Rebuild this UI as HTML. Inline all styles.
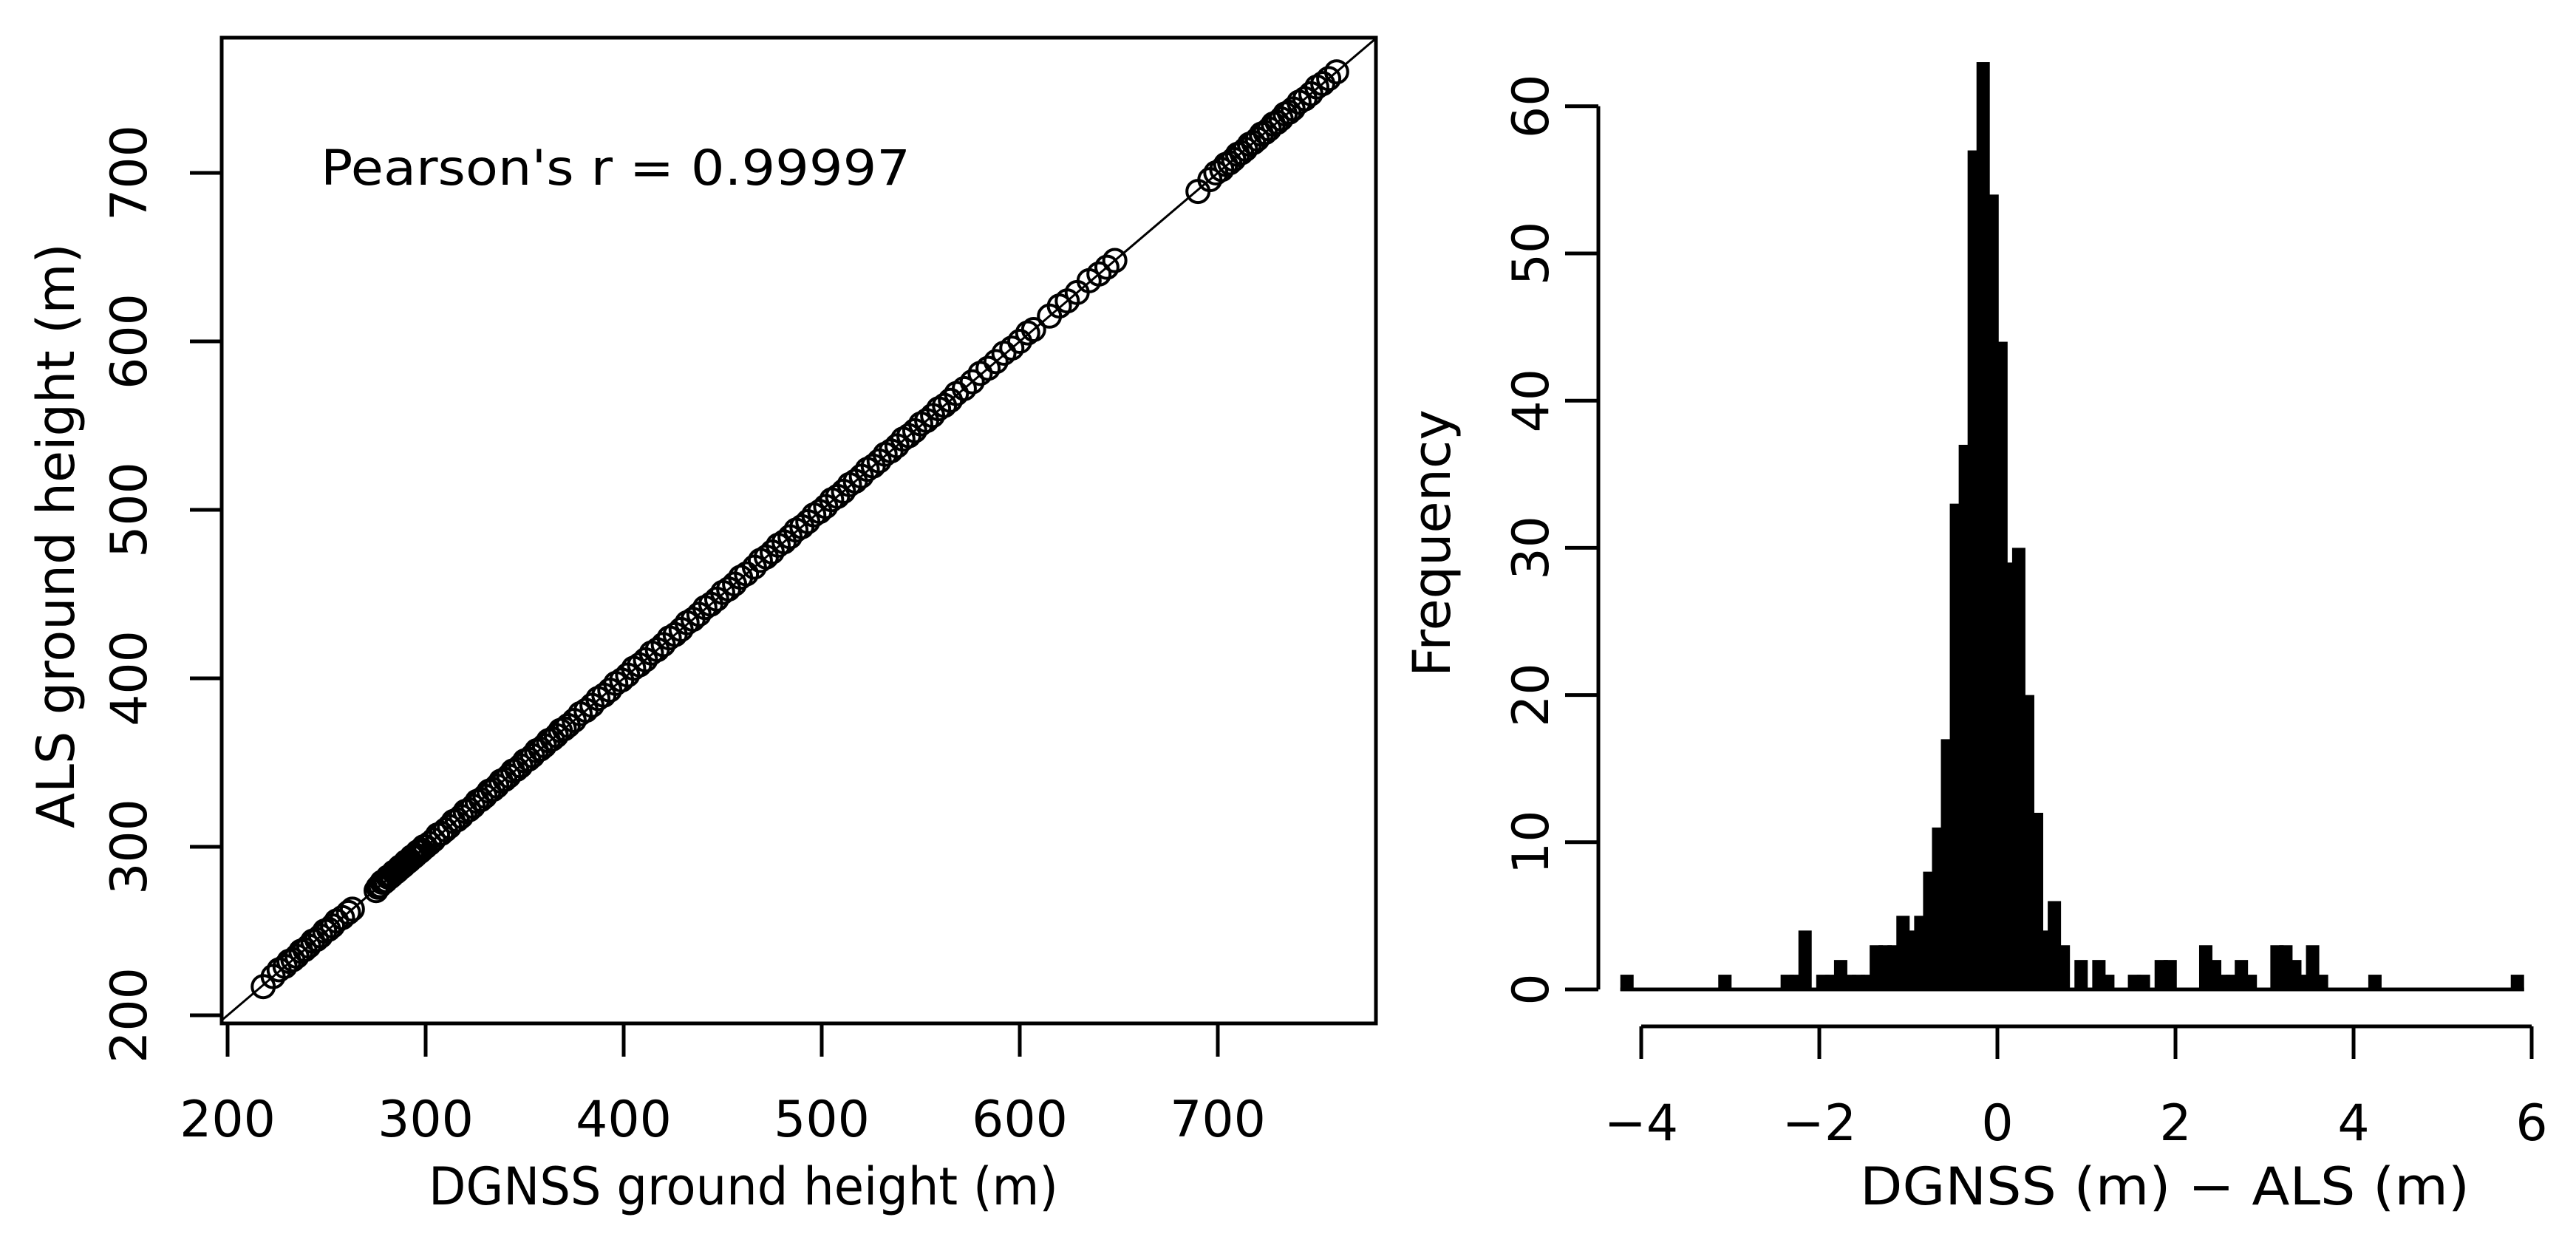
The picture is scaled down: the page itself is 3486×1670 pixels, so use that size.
<!DOCTYPE html>
<html><head><meta charset="utf-8"><style>
html,body{margin:0;padding:0;background:#fff;}
svg{display:block;font-family:"DejaVu Sans","Liberation Sans",sans-serif;}
</style></head><body>
<svg id="fig" width="3486" height="1670" viewBox="0 0 3486 1670" xmlns="http://www.w3.org/2000/svg">
<g id="left"></g>
<g id="right"></g>
</svg>
<script>
// ---- Scatter data ----
const dgnss = [218,223,226,229,231,233,235,237,239,241,243,245,247,249,251,253,255,258,261,263,
275,276,277,278,279,280,281,282,283,284,285,286,287,288,289,290,291,292,293,294,295,296,297,298,299,300,
302,304,306,308,310,312,314,316,318,320,322,324,326,328,330,332,334,336,338,340,342,344,346,348,350,352,354,356,358,360,362,364,366,368,370,372,375,378,381,384,387,390,393,396,399,402,405,408,411,414,417,420,423,426,429,432,435,438,441,444,447,450,453,456,459,462,466,469,472,475,478,481,484,487,490,493,496,499,502,505,508,511,514,517,520,523,526,529,532,535,538,541,544,547,550,553,556,559,562,565,568,572,576,580,584,588,592,596,600,604,607,615,620,624,629,635,640,644,648,
690,696,699,702,704,706,708,710,712,714,716,718,720,722,724,726,728,730,732,734,736,738,741,744,747,750,753,756,760];
const als = [217,223,227,229,232,233,235,238,239,241,244,245,247,250,251,253,256,258,261,263,
274,276,277,279,279,280,282,282,283,285,285,286,288,288,289,291,291,292,294,294,295,297,297,298,300,300,
302,304,307,308,310,312,315,316,318,321,322,324,327,328,330,333,334,336,339,340,342,345,346,348,351,352,354,357,358,360,363,364,366,369,370,372,375,379,381,384,388,390,393,397,399,402,406,408,411,415,417,420,424,426,429,433,435,438,442,444,447,451,453,456,460,462,466,470,472,475,479,481,484,488,490,493,497,499,502,506,508,511,515,517,520,524,526,529,533,535,538,542,544,547,551,553,556,560,562,565,569,572,576,581,584,588,593,596,600,605,607,615,621,624,629,636,640,644,648,
689,696,700,702,705,706,708,711,712,714,717,718,720,723,724,726,729,730,732,735,736,738,742,744,747,751,753,756,760];
const scatterXTicks = [200,300,400,500,600,700];
const scatterYTicks = [200,300,400,500,600,700];

// ---- Histogram data ----
const histBinStart = -4.16;
const histBinWidth = 0.1;
const histCounts = [1,0,0,0,0,0,0,0,0,0,0,1,0,0,0,0,0,0,1,1,4,0,1,1,2,1,1,1,3,3,3,5,4,5,8,11,17,33,37,57,63,54,44,29,30,20,12,4,6,3,0,2,0,2,1,0,0,1,1,0,2,2,0,0,0,3,2,1,1,2,1,0,0,3,3,2,1,3,1,0,0,0,0,0,1,0,0,0,0,0,0,0,0,0,0,0,0,0,0,0,1];
const histXTicks = [-4,-2,0,2,4,6];
const histXTickLabels = ["\u22124","\u22122","0","2","4","6"];
const histYTicks = [0,10,20,30,40,50,60];

const NS="http://www.w3.org/2000/svg";
function mk(tag, attrs, parent, text){
  const e=document.createElementNS(NS,tag);
  for(const k in attrs) e.setAttribute(k, attrs[k]);
  if(text!==undefined) e.textContent=text;
  parent.appendChild(e); return e;
}
const L=document.getElementById('left');
const R=document.getElementById('right');

const sx = v => 308 + (v-200)*2.68;
const sy = v => 1374 - (v-200)*2.28;

const defs=mk('defs',{},document.getElementById('fig'));
const cp=mk('clipPath',{id:'boxclip'},defs);
mk('rect',{x:300,y:51,width:1562,height:1334},cp);

let ln=mk('line',{x1:sx(190),y1:sy(190),x2:sx(800),y2:sy(800),stroke:'#000','stroke-width':3,'clip-path':'url(#boxclip)'},L);



const pts=mk('g',{'clip-path':'url(#boxclip)'},L);


const n=Math.min(dgnss.length, als.length);
for(let i=0;i<n;i++){
  const c=mk('circle',{cx:sx(dgnss[i]),cy:sy(als[i]),r:15,fill:'none',stroke:'#000','stroke-width':4},pts);
  
  
}
let bx=mk('rect',{x:300,y:51,width:1562,height:1334,fill:'none',stroke:'#000','stroke-width':5},L);



scatterXTicks.forEach(t=>{
  const x=sx(t);
  let tk=mk('line',{x1:x,y1:1385,x2:x,y2:1430,stroke:'#000','stroke-width':5},L);
  
  
  let lb=mk('text',{x:x,y:1538,'font-size':68,'text-anchor':'middle'},L,String(t));
  
  
});
scatterYTicks.forEach(t=>{
  const y=sy(t);
  let tk=mk('line',{x1:257,y1:y,x2:300,y2:y,stroke:'#000','stroke-width':5},L);
  
  
  let lb=mk('text',{x:0,y:0,'font-size':68,'text-anchor':'middle',transform:`translate(198,${y}) rotate(-90)`},L,String(t));
  
  
});
let xt=mk('text',{x:580,y:1630,'font-size':70,textLength:852,lengthAdjust:'spacingAndGlyphs'},L,'DGNSS ground height (m)');


let yt=mk('text',{x:0,y:0,'font-size':70,'text-anchor':'middle',transform:'translate(100,725) rotate(-90)'},L,'ALS ground height (m)');


let pr=mk('text',{x:434,y:250,'font-size':66,textLength:798,lengthAdjust:'spacingAndGlyphs'},L,"Pearson's r = 0.99997");



// ---- Histogram ----
const hx = v => 2221 + (v+4)*120.5;
const hy = c => 1339 - c*19.92;
let base=mk('line',{x1:hx(histBinStart)-9,y1:1339,x2:hx(histBinStart+(histCounts.length-1)*histBinWidth)+9,y2:1339,stroke:'#000','stroke-width':5},R);


histCounts.forEach((c,i)=>{
  if(c<=0) return;
  const v=histBinStart+i*histBinWidth;
  const x=hx(v);
  const b=mk('rect',{x:x-9,y:hy(c),width:18,height:1341-hy(c),fill:'#000'},R);
  
  
});
let ya=mk('line',{x1:2163,y1:hy(60),x2:2163,y2:hy(0),stroke:'#000','stroke-width':5},R);


histYTicks.forEach(t=>{
  const y=hy(t);
  let tk=mk('line',{x1:2118,y1:y,x2:2163,y2:y,stroke:'#000','stroke-width':5},R);
  
  
  let lb=mk('text',{x:0,y:0,'font-size':68,'text-anchor':'middle',transform:`translate(2095,${y}) rotate(-90)`},R,String(t));
  
  
});
let xa=mk('line',{x1:hx(histXTicks[0]),y1:1389,x2:hx(histXTicks[histXTicks.length-1]),y2:1389,stroke:'#000','stroke-width':5},R);


histXTicks.forEach((t,i)=>{
  const x=hx(t);
  let tk=mk('line',{x1:x,y1:1389,x2:x,y2:1433,stroke:'#000','stroke-width':5},R);
  
  
  let lb=mk('text',{x:x,y:1543,'font-size':68,'text-anchor':'middle'},R,histXTickLabels[i]);
  
  
});
let hxt=mk('text',{x:2517,y:1630,'font-size':70,textLength:825,lengthAdjust:'spacingAndGlyphs'},R,'DGNSS (m) \u2212 ALS (m)');


let hyt=mk('text',{x:0,y:0,'font-size':70,'text-anchor':'middle',transform:'translate(1962,735) rotate(-90)'},R,'Frequency');


</script>
</body></html>
